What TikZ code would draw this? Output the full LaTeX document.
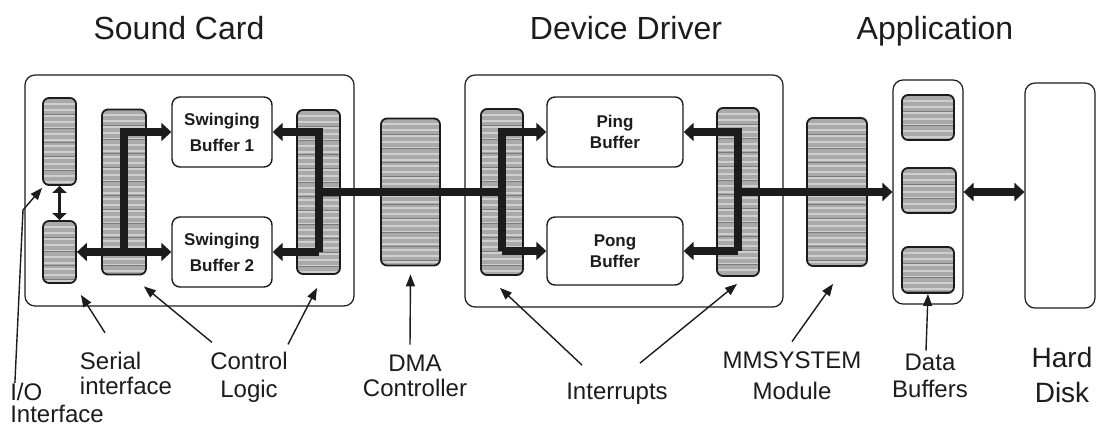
\documentclass[tikz,border=0pt]{standalone}
\usepackage{fontspec}
\setmainfont{Liberation Sans}
\usetikzlibrary{arrows.meta,calc}
\definecolor{ink}{HTML}{1C1C1C}
\definecolor{chipgray}{HTML}{A9A9A9}
\definecolor{chiplight}{HTML}{CFCFCF}
\definecolor{chipdark}{HTML}{7A7A7A}

\tikzset{
  title/.style={font=\fontsize{16}{19}\selectfont,anchor=base,inner sep=0pt},
  lbl/.style={font=\fontsize{12}{14}\selectfont,align=center,inner sep=0pt},
  frame/.style={draw=ink,line width=0.6pt,rounded corners=5pt,inner sep=0pt},
  chip/.style={draw=ink,line width=0.9pt,rounded corners=3pt,fill=chipgray,inner sep=0pt,
    path picture={
      \foreach \k in {1,...,30}
        \draw[chiplight,line width=1pt]
          ([yshift=-\k*3pt]path picture bounding box.north west) --
          ([yshift=-\k*3pt]path picture bounding box.north east);
      \foreach \k in {1,...,12}
        \draw[chipdark,line width=0.4pt]
          ([yshift=-\k*7pt-1pt]path picture bounding box.north west) --
          ([yshift=-\k*7pt-1pt]path picture bounding box.north east);
    }},
  bufbox/.style={draw=ink,line width=0.7pt,rounded corners=4pt,fill=white,inner sep=0pt,
    align=center,font=\fontsize{8.5}{13}\selectfont\bfseries},
  bus/.style={draw=ink,line width=4pt},
  dbl/.style={draw=ink,line width=1.5pt,
    {Triangle[length=3.5pt,width=7pt]}-{Triangle[length=3.5pt,width=7pt]}},
  ptr/.style={draw=ink,line width=0.7pt,-{Triangle[length=6pt,width=4.5pt]}},
}

\begin{document}
\begin{tikzpicture}[x=0.5pt,y=-0.5pt,>={Triangle[length=5pt,width=9pt]},text=ink]
  \useasboundingbox[fill=white] (0,0) rectangle (1098,427);

  % headings
  \node[title] (tsc) at (179,40) {Sound Card};
  \node[title] (tdd) at (626,40) {Device Driver};
  \node[title] (tap) at (935,40) {Application};

  % outer frames
  \node[frame,minimum width=164.5pt,minimum height=115.5pt] (sc) at (189.5,190.5) {};
  \node[frame,minimum width=159pt,minimum height=116pt] (dd) at (624,191) {};
  \node[frame,minimum width=35pt,minimum height=112pt] (app) at (928,192) {};
  \node[frame,minimum width=35pt,minimum height=112.5pt] (disk) at (1060,195.5) {};

  % sound card
  \node[chip,minimum width=16.5pt,minimum height=43.5pt] (io1) at (59.5,141.5) {};
  \node[chip,minimum width=16.5pt,minimum height=31pt] (io2) at (59.5,252) {};
  \node[chip,minimum width=22pt,minimum height=82.5pt] (ser) at (124,192) {};
  \node[chip,minimum width=21.5pt,minimum height=82pt] (ctr) at (318.5,192) {};
  \node[bufbox,minimum width=50pt,minimum height=35pt] (sw1) at (222,132) {Swinging\\Buffer 1};
  \node[bufbox,minimum width=50pt,minimum height=35pt] (sw2) at (222,252) {Swinging\\Buffer 2};

  % dma
  \node[chip,minimum width=29.5pt,minimum height=73.5pt] (dma) at (410.5,192) {};

  % device driver
  \node[chip,minimum width=21pt,minimum height=83pt] (intl) at (502,192) {};
  \node[chip,minimum width=21pt,minimum height=84pt] (intr) at (738,192) {};
  \node[bufbox,font=\fontsize{8.5}{10.5}\selectfont\bfseries,
        minimum width=68pt,minimum height=35pt] (ping) at (615,132) {Ping\\Buffer};
  \node[bufbox,font=\fontsize{8.5}{10.5}\selectfont\bfseries,
        minimum width=68pt,minimum height=34pt] (pong) at (615,251) {Pong\\Buffer};

  % mmsystem and data buffers
  \node[chip,minimum width=30pt,minimum height=74pt] (mm) at (837,192) {};
  \node[chip,minimum width=26pt,minimum height=22.5pt] (db1) at (928,117.5) {};
  \node[chip,minimum width=27pt,minimum height=22.5pt] (db2) at (929,190.5) {};
  \node[chip,minimum width=26pt,minimum height=23pt] (db3) at (928,270) {};

  % data paths
  \draw[dbl] (io1.south) -- (io2.north);
  \draw[bus,->] (ser.center |- sw2.west) |- (sw1.west);
  \draw[bus,<->] (io2.east) -- (sw2.west);
  \draw[bus,->] (ctr.center |- sw2.east) |- (sw1.east);
  \draw[bus,->] (ctr.center |- sw2.east) -- (sw2.east);
  \draw[bus] (ctr.center) -- (intl.center);
  \draw[bus,->] (intl.center |- pong.west) |- (ping.west);
  \draw[bus,->] (intl.center |- pong.west) -- (pong.west);
  \draw[bus,->] (intr.center |- pong.east) |- (ping.east);
  \draw[bus,->] (intr.center |- pong.east) -- (pong.east);
  \draw[bus,->] (intr.center) -- (app.west);
  \draw[bus,<->] (app.east) -- (app.east -| disk.west);

  % labels
  \node[lbl,align=left,font=\fontsize{12}{11}\selectfont] (iol) at (57,403) {I/O\\Interface};
  \node[lbl,align=left,font=\fontsize{12}{12.5}\selectfont] (serl) at (126,373.5) {Serial\\interface};
  \node[lbl] (ctll) at (249,377) {Control\\Logic};
  \node[lbl,font=\fontsize{12}{12.5}\selectfont] (dmal) at (415,376) {DMA\\Controller};
  \node[lbl,anchor=base] (irql) at (617,400) {Interrupts};
  \node[lbl,font=\fontsize{12}{15.5}\selectfont] (mml) at (792,376) {MMSYSTEM\\Module};
  \node[lbl,font=\fontsize{12}{13.5}\selectfont] (dbl) at (930,376) {Data\\Buffers};
  \node[lbl,font=\fontsize{14}{17.5}\selectfont] (hdl) at (1062,375) {Hard\\Disk};

  % pointers
  \draw[ptr] ([xshift=2.5pt]iol.north west) -- (23,210) -- ($(io1.south west)+(0,2)$);
  \draw[ptr] ($(serl.north)+(-21,-19)$) -- ($(io2.south east)+(4,11)$);
  \draw[ptr] ($(ctll.north)+(-37,-9)$) -- ($(ser.south east)+(-3,11)$);
  \draw[ptr] ($(ctll.north)+(39,-7)$) -- ($(ctr.south)+(-1.5,13)$);
  \draw[ptr] ($(dmal.north)+(-5,-10)$) -- ($(dma.south)+(0,8)$);
  \draw[ptr] ($(irql.north)+(-35,-18)$) -- ($(intl.south)+(-2,12)$);
  \draw[ptr] ($(irql.north)+(23,-20)$) -- ($(intr.south)+(-1,7)$);
  \draw[ptr] ($(mml.north)+(0,-10)$) -- ($(mm.south)+(-4,17)$);
  \draw[ptr] ($(dbl.north)+(-4,-3)$) -- (db3.south);
\end{tikzpicture}
\end{document}
